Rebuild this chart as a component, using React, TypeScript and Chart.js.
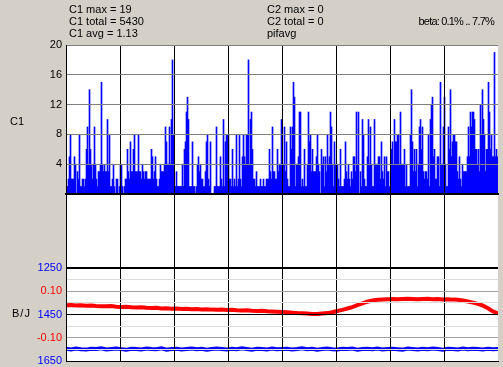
import React, { useEffect, useRef } from "react";
import { Chart, registerables } from "chart.js";

Chart.register(...registerables);

const FONT = '"Liberation Sans", Arial, sans-serif';
const PAGE_BG = "#d4d0c8";

// ---- data ----
const HEADER_LEFT = ["C1 max = 19", "C1 total = 5430", "C1 avg = 1.13"];
const HEADER_MID = ["C2 max = 0", "C2 total = 0", "pifavg"];
const HEADER_RIGHT = "beta: 0.1% .. 7.7%";

// C1 counts, one value per screen column
const C1_COUNTS = [
  1, 1, 2, 5, 8, 2, 2, 2, 5, 4, 0, 3, 2, 8, 1, 1, 2, 2, 1, 2, 6, 9, 4, 14, 6, 4, 2, 4, 9, 4,
  2, 1, 3, 3, 4, 15, 4, 3, 4, 3, 3, 10, 3, 8, 1, 1, 2, 4, 1, 0, 2, 2, 0, 1,
  4, 4, 1, 0, 1, 2, 2, 6, 3, 2, 7, 3, 3, 6, 8, 3, 3, 3, 8, 3, 3, 2, 4, 3, 2, 3, 3, 2,
  2, 2, 2, 6, 5, 2, 3, 5, 2, 1, 1, 2, 4, 3, 3, 3, 4, 9, 7, 4, 4, 9, 4, 10, 18, 8,
  1, 1, 3, 1, 1, 1, 1, 1, 4, 1, 6, 7, 11, 13, 10, 1, 1, 1, 7, 1, 1, 0, 1, 4, 5, 3,
  4, 2, 2, 1, 1, 3, 7, 8, 2, 1, 7, 0, 0, 0, 1, 1, 9, 1, 1, 1, 5, 2, 1, 10, 1, 7, 8, 8,
  8, 2, 2, 1, 6, 1, 2, 1, 8, 1, 2, 8, 2, 1, 5, 8, 5, 4, 8, 8, 18, 4, 10, 11, 6, 2,
  2, 1, 3, 1, 1, 1, 2, 1, 1, 2, 1, 1, 2, 2, 2, 6, 3, 2, 9, 3, 3, 2, 2, 6, 3, 4, 4, 10,
  4, 4, 9, 3, 7, 2, 1, 1, 9, 6, 9, 15, 13, 1, 4, 4, 5, 11, 11, 1, 2, 1, 6, 1, 1, 4,
  11, 7, 8, 3, 6, 3, 3, 3, 5, 8, 4, 3, 0, 6, 4, 5, 1, 5, 3, 8, 4, 5, 11, 9, 4, 1, 7, 4,
  4, 4, 2, 1, 6, 1, 1, 1, 2, 7, 3, 2, 4, 2, 1, 3, 2, 5, 5, 3, 11, 4, 11, 0, 3, 1,
  10, 8, 2, 1, 1, 5, 10, 4, 9, 4, 1, 1, 10, 4, 4, 4, 5, 5, 2, 7, 3, 2, 5, 1, 5, 3, 3, 1,
  1, 6, 7, 4, 10, 7, 7, 8, 8, 4, 11, 4, 4, 4, 6, 1, 4, 1, 1, 1, 8, 14, 7, 3, 6, 3,
  6, 1, 4, 9, 10, 6, 9, 3, 2, 3, 3, 2, 8, 1, 10, 12, 13, 5, 6, 2, 2, 5, 5, 1, 15, 4, 4, 9,
  13, 4, 1, 1, 9, 6, 14, 5, 7, 8, 8, 7, 7, 3, 2, 5, 2, 1, 4, 3, 3, 3, 3, 5, 9, 5,
  11, 9, 11, 11, 10, 6, 6, 4, 6, 3, 12, 8, 14, 10, 8, 3, 6, 6, 15, 11, 6, 8, 5, 5, 19, 5, 6, 5,
];
const C1_TICKS = [4, 8, 12, 16, 20];

const BJ_TICKS = [1250, 1300, 1350, 1400, 1450, 1500, 1550, 1600, 1650];
const BJ_LABELED = [1250, 1450, 1650];
const BETA_TICKS = [0.1, -0.1];

const B_SERIES = [
  1597, 1600, 1596, 1599, 1601, 1597, 1598, 1595, 1600, 1598, 1596, 1599, 1602, 1597, 1598,
  1600, 1596, 1598, 1599, 1595, 1601, 1598, 1597, 1600, 1598, 1596, 1599, 1597, 1601, 1598,
  1596, 1598, 1600, 1597, 1599, 1595, 1598, 1601, 1597, 1598, 1600, 1596, 1599, 1598, 1597,
  1600, 1598, 1595, 1599, 1597, 1601, 1598, 1596, 1599, 1600, 1597, 1598, 1596, 1601, 1598,
  1597, 1599, 1596, 1600, 1598, 1597, 1599, 1601, 1596, 1598, 1600, 1597, 1599, 1596, 1598,
  1601, 1597, 1598, 1600, 1596, 1599, 1597, 1598, 1600, 1597, 1599, 1598,
];
const BETA_SERIES = [
  0.04, 0.041, 0.039, 0.04, 0.038, 0.039, 0.037, 0.036, 0.035, 0.036, 0.033, 0.032, 0.033,
  0.031, 0.03, 0.031, 0.029, 0.028, 0.029, 0.026, 0.027, 0.025, 0.026, 0.024, 0.025, 0.023,
  0.024, 0.022, 0.023, 0.021, 0.02, 0.021, 0.019, 0.02, 0.018, 0.017, 0.018, 0.016, 0.015,
  0.016, 0.014, 0.013, 0.012, 0.011, 0.01, 0.008, 0.006, 0.005, 0.004, 0.002, 0.002, 0.004,
  0.006, 0.01, 0.015, 0.02, 0.026, 0.032, 0.04, 0.048, 0.055, 0.06, 0.063, 0.065, 0.066,
  0.067, 0.066, 0.067, 0.068, 0.067, 0.066, 0.067, 0.068, 0.066, 0.067, 0.065, 0.066, 0.064,
  0.063, 0.06, 0.056, 0.051, 0.046, 0.038, 0.027, 0.013, 0.005,
];

// ---- layout ----
const W = 503;
const PLOT_LEFT = 66;
const PLOT_RIGHT = 498;
const TOP1 = 45;
const BOT1 = 194;
const TOP2 = 194;
const Y1250 = 268;
const BOT2 = 361;
const X_DIVS = 8;
const N = C1_COUNTS.length;
const TICK_FONT = { family: FONT, size: 11 };

const whiteArea = {
  id: "whiteArea",
  beforeDraw(chart: any) {
    const { ctx, chartArea: a } = chart;
    ctx.save();
    ctx.fillStyle = "#ffffff";
    ctx.fillRect(a.left, a.top, a.right - a.left, a.bottom - a.top);
    ctx.restore();
  },
};

// draws the tick labels of the zero-width red axis next to the blue ones
const redAxisLabels = {
  id: "redAxisLabels",
  afterDraw(chart: any) {
    const s = chart.scales.yR;
    if (!s) return;
    const { ctx } = chart;
    ctx.save();
    ctx.font = `${TICK_FONT.size}px ${FONT}`;
    ctx.fillStyle = "#ff0000";
    ctx.textAlign = "right";
    ctx.textBaseline = "middle";
    for (const t of s.ticks) {
      ctx.fillText(String(t.label), chart.chartArea.left - 4, s.getPixelForValue(t.value));
    }
    ctx.restore();
  },
};

function xScale(borderWidth: number) {
  return {
    type: "linear",
    min: 0,
    max: N,
    offset: false,
    afterBuildTicks: (s: any) => {
      s.ticks = Array.from({ length: X_DIVS + 1 }, (_, k) => ({ value: (k * N) / X_DIVS }));
    },
    ticks: { display: false },
    grid: {
      z: 1,
      offset: false,
      drawTicks: false,
      lineWidth: 1,
      color: (c: any) => (c.index === X_DIVS ? "rgba(0,0,0,0)" : "#000000"),
    },
    border: { display: true, color: "#000000", width: borderWidth, z: 1 },
    afterFit: (s: any) => {
      s.height = 0;
      s.paddingLeft = 0;
      s.paddingRight = 0;
    },
  };
}

export default function App() {
  const c1 = useRef<HTMLCanvasElement | null>(null);
  const c2 = useRef<HTMLCanvasElement | null>(null);

  useEffect(() => {
    const chart1 = new Chart(c1.current as HTMLCanvasElement, {
      type: "bar",
      data: {
        datasets: [
          {
            data: C1_COUNTS.map((v, i) => ({ x: i + 0.5, y: v })),
            backgroundColor: "#0000ff",
            borderWidth: 0,
            barPercentage: 1,
            categoryPercentage: 1,
            grouped: false,
          } as any,
        ],
      },
      options: {
        animation: false,
        responsive: false,
        devicePixelRatio: 1,
        layout: { padding: { top: TOP1, right: W - PLOT_RIGHT, bottom: 196 - BOT1, left: 0 } },
        plugins: { legend: { display: false }, tooltip: { enabled: false } },
        scales: {
          x: xScale(2) as any,
          y: {
            min: 0,
            max: 20,
            afterBuildTicks: (s: any) => {
              s.ticks = C1_TICKS.map((v) => ({ value: v }));
            },
            ticks: { color: "#000000", font: TICK_FONT, padding: 4 },
            grid: { z: 1, color: "#808080", drawTicks: false, lineWidth: 1 },
            border: { display: true, color: "#000000", width: 1, z: 1 },
            afterFit: (s: any) => {
              s.width = PLOT_LEFT;
              s.paddingTop = 0;
              s.paddingBottom = 0;
            },
          } as any,
        },
      },
      plugins: [whiteArea],
    });

    const span = BOT2 - Y1250;
    const bMin = 1250 - ((Y1250 - TOP2) * 400) / span;
    const rMax = 0.2 + ((Y1250 - TOP2) * 0.4) / span;

    const chart2 = new Chart(c2.current as HTMLCanvasElement, {
      type: "line",
      data: {
        datasets: [
          {
            data: BETA_SERIES.map((v, i) => ({ x: (i * N) / (BETA_SERIES.length - 1), y: v })),
            yAxisID: "yR",
            borderColor: "#ff0000",
            borderWidth: 4,
            pointRadius: 0,
            tension: 0,
          },
          {
            data: B_SERIES.map((v, i) => ({ x: (i * N) / (B_SERIES.length - 1), y: v })),
            yAxisID: "yB",
            borderColor: "#0000ff",
            borderWidth: 4,
            pointRadius: 0,
            tension: 0,
          },
        ],
      },
      options: {
        animation: false,
        responsive: false,
        devicePixelRatio: 1,
        layout: { padding: { top: 0, right: W - PLOT_RIGHT, bottom: 367 - BOT2, left: 0 } },
        plugins: { legend: { display: false }, tooltip: { enabled: false } },
        scales: {
          x: xScale(1) as any,
          yB: {
            type: "linear",
            position: "left",
            weight: 1,
            reverse: true,
            min: bMin,
            max: 1650,
            afterBuildTicks: (s: any) => {
              s.ticks = BJ_TICKS.map((v) => ({ value: v }));
            },
            ticks: {
              color: "#0000ff",
              font: TICK_FONT,
              padding: 4,
              callback: (v: any) => (BJ_LABELED.includes(Number(v)) ? String(v) : ""),
            },
            grid: {
              z: 1,
              drawTicks: false,
              lineWidth: (c: any) => (c.tick && c.tick.value === 1250 ? 2 : 1),
              color: (c: any) => {
                const v = c.tick ? c.tick.value : 0;
                if (v === 1250 || v === 1450 || v === 1650) return "#000000";
                if (v === 1350 || v === 1550) return "#a0a0a0";
                return "#dcdcdc";
              },
            },
            border: { display: true, color: "#000000", width: 1, z: 1 },
            afterFit: (s: any) => {
              s.width = PLOT_LEFT;
              s.paddingTop = 0;
              s.paddingBottom = 0;
            },
          } as any,
          yR: {
            type: "linear",
            position: "left",
            weight: 0,
            min: -0.2,
            max: rMax,
            afterBuildTicks: (s: any) => {
              s.ticks = BETA_TICKS.map((v) => ({ value: v }));
            },
            ticks: {
              display: false,
              callback: (v: any) => Number(v).toFixed(2),
            },
            grid: { display: false, drawTicks: false },
            border: { display: false },
            afterFit: (s: any) => {
              s.width = 0;
              s.paddingTop = 0;
              s.paddingBottom = 0;
            },
          } as any,
        },
      },
      plugins: [whiteArea, redAxisLabels],
    });

    return () => {
      chart1.destroy();
      chart2.destroy();
    };
  }, []);

  const text = (s: string, style: any, key?: any) => (
    <div
      key={key}
      style={{
        position: "absolute",
        fontFamily: FONT,
        fontSize: 11,
        lineHeight: "12px",
        color: "#000",
        whiteSpace: "pre",
        ...style,
      }}
    >
      {s}
    </div>
  );

  return (
    <div
      style={{
        position: "fixed",
        left: 0,
        top: 0,
        width: W,
        height: 367,
        background: PAGE_BG,
        overflow: "hidden",
      }}
    >
      <canvas
        ref={c2}
        width={W}
        height={367 - TOP2}
        style={{ position: "absolute", left: 0, top: TOP2 }}
      />
      <canvas ref={c1} width={W} height={196} style={{ position: "absolute", left: 0, top: 0 }} />
      {HEADER_LEFT.map((s, i) => text(s, { left: 69, top: 3 + i * 12 }, "l" + i))}
      {HEADER_MID.map((s, i) => text(s, { left: 267, top: 3 + i * 12 }, "m" + i))}
      {text(HEADER_RIGHT, { right: W - 494, top: 15, textAlign: "right", letterSpacing: -0.8 })}
      {text("C1", { left: 10, top: 115 })}
      {text("B/J", { left: 12, top: 307, letterSpacing: 1 })}
    </div>
  );
}
